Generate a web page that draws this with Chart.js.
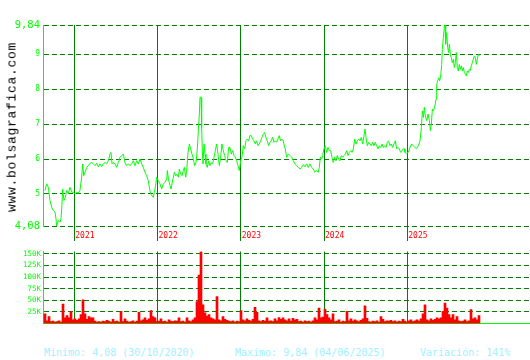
<!DOCTYPE html>
<html>
<head>
<meta charset="utf-8">
<script src="https://cdn.jsdelivr.net/npm/chart.js@4.4.1/dist/chart.umd.min.js"></script>
<style>
    body { margin: 0; background: #fff; width: 530px; height: 360px; position: relative; overflow: hidden; }
    #priceChart { position: absolute; left: 0; top: 0; }
    #volumeChart { position: absolute; left: 0; top: 245px; }
    .stat { position: absolute; top: 347px; font: 10px 'DejaVu Sans Mono', monospace; line-height: 12px; color: #a0f0ff; white-space: pre; }
    #brand { position: absolute; left: 12px; top: 127px; transform: translate(-50%, -50%) rotate(-90deg);
             font: 13px 'Liberation Mono', monospace; letter-spacing: 0.7px; color: #000; white-space: pre; }
</style>
</head>
<body>
<canvas id="priceChart" width="530" height="245"></canvas>
<canvas id="volumeChart" width="530" height="85"></canvas>
<div id="brand">www.bolsagrafica.com</div>
<div class="stat" style="left:44px">Minimo: 4,08 (30/10/2020)</div>
<div class="stat" style="left:235px">Maximo: 9,84 (04/06/2025)</div>
<div class="stat" style="left:420px">Variación: 141%</div>
<script>
// x values are decimal years
const years = [2021, 2022, 2023, 2024, 2025];
const xMin = 2020.624;
const xMax = 2026.474;

const priceTicks = [4.08, 5, 6, 7, 8, 9, 9.84];
const priceMin = 4.08;
const priceMax = 9.84;

const priceDates = [
    2020.648, 2020.668, 2020.688, 2020.708, 2020.728, 2020.748, 2020.768, 2020.780, 2020.788, 2020.808,
    2020.828, 2020.840, 2020.852, 2020.860, 2020.876, 2020.892, 2020.908, 2020.928, 2020.948, 2020.968,
    2020.988, 2021.008, 2021.028, 2021.048, 2021.068, 2021.088, 2021.101, 2021.113, 2021.129, 2021.149,
    2021.169, 2021.189, 2021.209, 2021.229, 2021.249, 2021.269, 2021.289, 2021.309, 2021.329, 2021.349,
    2021.369, 2021.389, 2021.409, 2021.429, 2021.441, 2021.453, 2021.469, 2021.489, 2021.509, 2021.529,
    2021.549, 2021.569, 2021.589, 2021.609, 2021.629, 2021.649, 2021.669, 2021.689, 2021.709, 2021.729,
    2021.749, 2021.769, 2021.789, 2021.809, 2021.829, 2021.849, 2021.869, 2021.889, 2021.901, 2021.917,
    2021.933, 2021.949, 2021.961, 2021.977, 2021.989, 2022.009, 2022.029, 2022.049, 2022.069, 2022.089,

    2022.110, 2022.118, 2022.130, 2022.150, 2022.162, 2022.174, 2022.190, 2022.202, 2022.218, 2022.230,
    2022.250, 2022.262, 2022.278, 2022.294, 2022.310, 2022.322, 2022.338, 2022.350, 2022.366, 2022.382,
    2022.398, 2022.414, 2022.430, 2022.446, 2022.462, 2022.478, 2022.490, 2022.502, 2022.510, 2022.522,
    2022.530, 2022.538, 2022.546, 2022.558, 2022.570, 2022.582, 2022.598, 2022.614, 2022.630, 2022.646,
    2022.662, 2022.678, 2022.694, 2022.710, 2022.726, 2022.742, 2022.758, 2022.774, 2022.790, 2022.806,
    2022.822, 2022.838, 2022.854, 2022.870, 2022.886, 2022.902, 2022.918, 2022.934, 2022.950, 2022.966,
    2022.982, 2022.998, 2023.014, 2023.030, 2023.046, 2023.062, 2023.078, 2023.094, 2023.110, 2023.126,
    2023.142, 2023.158, 2023.174, 2023.190, 2023.206, 2023.222, 2023.238, 2023.254, 2023.270, 2023.286,
    2023.302, 2023.318, 2023.334, 2023.350, 2023.366, 2023.382, 2023.398, 2023.414, 2023.430, 2023.446,
    2023.462, 2023.478, 2023.494, 2023.510, 2023.526,

    2023.531, 2023.551, 2023.571, 2023.591, 2023.611, 2023.631, 2023.651, 2023.671, 2023.691, 2023.711,
    2023.731, 2023.751, 2023.771, 2023.791, 2023.811, 2023.831, 2023.851, 2023.871, 2023.891, 2023.911,
    2023.931, 2023.943, 2023.955, 2023.971, 2023.983, 2023.999, 2024.015, 2024.031, 2024.047, 2024.063,
    2024.079, 2024.095, 2024.111, 2024.127, 2024.143, 2024.159, 2024.175, 2024.191, 2024.208, 2024.224,
    2024.240, 2024.256, 2024.272, 2024.288, 2024.304, 2024.320, 2024.336, 2024.352, 2024.368, 2024.384,
    2024.400, 2024.416, 2024.432, 2024.448, 2024.464, 2024.480, 2024.492, 2024.504, 2024.520, 2024.536,
    2024.552, 2024.568, 2024.584, 2024.600, 2024.616, 2024.632, 2024.648, 2024.664, 2024.680, 2024.696,
    2024.712, 2024.728, 2024.744, 2024.760, 2024.776, 2024.792, 2024.808, 2024.824, 2024.840, 2024.856,
    2024.872, 2024.888, 2024.904, 2024.920, 2024.936, 2024.952, 2024.968,

    2024.972, 2024.992, 2025.012, 2025.032, 2025.052, 2025.072, 2025.092, 2025.112, 2025.132, 2025.153,
    2025.169, 2025.181, 2025.193, 2025.205, 2025.217, 2025.233, 2025.249, 2025.265, 2025.277, 2025.289,
    2025.301, 2025.313, 2025.329, 2025.345, 2025.353, 2025.365, 2025.377, 2025.389, 2025.401, 2025.413,
    2025.421, 2025.433, 2025.445, 2025.453, 2025.461, 2025.473, 2025.485, 2025.497, 2025.505, 2025.517,
    2025.529, 2025.541, 2025.553, 2025.565, 2025.577, 2025.589, 2025.601, 2025.613, 2025.625, 2025.637,
    2025.649, 2025.661, 2025.673, 2025.685, 2025.697, 2025.709, 2025.721, 2025.733, 2025.745, 2025.757,
    2025.769, 2025.781, 2025.793, 2025.805, 2025.817, 2025.829, 2025.841, 2025.853, 2025.865
];

const priceValues = [
    5.10, 5.29, 5.19, 4.81, 4.62, 4.52, 4.48, 4.29, 4.08, 4.24,
    4.19, 4.29, 4.71, 5.14, 4.81, 4.90, 5.10, 5.00, 5.19, 5.05,
    5.05, 5.00, 5.05, 5.02, 5.10, 5.48, 5.86, 5.52, 5.62, 5.76,
    5.81, 5.88, 5.90, 5.86, 5.81, 5.88, 5.78, 5.86, 5.78, 5.86,
    5.90, 5.86, 5.95, 6.14, 6.19, 5.86, 5.90, 5.86, 5.76, 5.90,
    6.05, 6.10, 6.14, 5.90, 5.81, 5.86, 5.81, 5.86, 5.95, 5.81,
    5.95, 5.86, 6.00, 5.86, 5.76, 5.62, 5.52, 5.38, 5.19, 5.00,
    4.95, 4.90, 5.05, 5.24, 5.48, 5.38, 5.29, 5.14, 5.29, 5.33,

    5.43, 5.67, 5.43, 5.24, 5.14, 5.29, 5.48, 5.62, 5.52, 5.57,
    5.48, 5.71, 5.57, 5.52, 5.67, 5.76, 5.48, 5.67, 6.19, 6.43,
    6.29, 6.14, 6.00, 5.81, 5.90, 6.29, 6.81, 7.29, 7.78, 7.76,
    6.90, 6.24, 5.86, 6.43, 6.14, 5.86, 5.76, 5.95, 5.81, 5.90,
    5.86, 6.05, 6.24, 6.43, 6.14, 5.81, 6.05, 6.43, 6.24, 6.10,
    5.95, 5.90, 6.33, 6.33, 6.14, 6.24, 6.10, 6.05, 5.95, 5.81,
    5.67, 5.95, 6.05, 6.38, 6.29, 6.52, 6.57, 6.52, 6.67, 6.67,
    6.57, 6.52, 6.43, 6.52, 6.38, 6.43, 6.52, 6.62, 6.71, 6.76,
    6.62, 6.52, 6.38, 6.48, 6.52, 6.62, 6.48, 6.52, 6.48, 6.57,
    6.67, 6.52, 6.57, 6.52, 6.33,

    6.33, 6.05, 6.14, 6.10, 6.05, 5.95, 5.86, 5.81, 5.76, 5.71,
    5.76, 5.84, 5.78, 5.86, 5.76, 5.86, 5.76, 5.71, 5.62, 5.67,
    5.62, 5.76, 6.05, 6.00, 6.10, 6.29, 6.38, 6.19, 6.33, 6.24,
    6.24, 6.05, 5.90, 6.05, 5.95, 6.10, 6.00, 5.95, 6.10, 6.05,
    6.10, 6.14, 6.24, 6.10, 6.19, 6.24, 6.19, 6.29, 6.57, 6.43,
    6.52, 6.57, 6.52, 6.62, 6.43, 6.67, 6.86, 6.62, 6.38, 6.48,
    6.43, 6.38, 6.48, 6.38, 6.48, 6.38, 6.29, 6.38, 6.33, 6.43,
    6.33, 6.38, 6.33, 6.48, 6.52, 6.38, 6.43, 6.33, 6.43, 6.52,
    6.29, 6.33, 6.29, 6.19, 6.24, 6.29, 6.29,

    6.19, 6.16, 6.19, 6.33, 6.43, 6.38, 6.33, 6.30, 6.38, 6.52,
    6.90, 7.38, 7.19, 7.48, 7.24, 7.10, 7.29, 7.10, 6.81, 7.00,
    7.43, 7.38, 7.48, 7.71, 8.14, 8.24, 8.33, 8.24, 8.38, 8.71,
    9.14, 9.48, 9.78, 9.84, 9.29, 9.62, 9.19, 9.05, 9.29, 9.00,
    8.90, 8.76, 8.86, 8.62, 8.76, 9.05, 8.62, 8.52, 8.71, 8.57,
    8.67, 8.52, 8.62, 8.48, 8.43, 8.38, 8.52, 8.48, 8.57, 8.54,
    8.67, 8.76, 8.86, 8.95, 8.90, 8.71, 8.86, 9.00, 8.95
];

// volume, thousands of shares, one bar per sampling step starting at volStart
const volStart = 2020.648;
const volStep = 0.024024;
const volValues = [
    21, 6, 15, 4, 5, 3, 4, 6, 3, 42, 12, 17, 12, 26, 8, 10, 7, 10, 19, 51,
    21, 9, 15, 12, 12, 5, 3, 4, 3, 5, 4, 7, 5, 3, 9, 4, 5, 3, 26, 4,
    10, 5, 3, 4, 6, 3, 5, 24, 6, 8, 12, 7, 10, 28, 15, 12, 4, 5, 10, 4,
    5, 3, 8, 5, 4, 6, 5, 12, 4, 5, 3, 12, 6, 4, 8, 12, 47, 104, 155, 40,
    23, 16, 19, 12, 10, 8, 58, 8, 6, 15, 9, 7, 5, 4, 6, 3, 5, 4, 28, 8,
    6, 10, 7, 5, 9, 35, 24, 6, 4, 7, 5, 12, 5, 6, 4, 10, 6, 13, 9, 12,
    8, 6, 10, 5, 11, 8, 9, 4, 5, 3, 6, 4, 5, 3, 6, 12, 8, 33, 12, 14,
    31, 19, 12, 8, 21, 4, 5, 8, 3, 5, 4, 26, 6, 10, 5, 8, 6, 4, 7, 10,
    38, 11, 4, 3, 5, 4, 6, 3, 15, 9, 4, 6, 5, 7, 4, 6, 3, 5, 4, 9,
    5, 3, 6, 8, 4, 6, 8, 5, 10, 21, 40, 8, 6, 10, 7, 9, 12, 10, 12, 26,
    44, 33, 19, 12, 19, 8, 15, 6, 4, 5, 8, 4, 6, 30, 10, 12, 8, 17
];
const volTicks = [25000, 50000, 75000, 100000, 125000, 150000];
const volMax = 155000;

const mono = 'DejaVu Sans Mono';

const yearLabels = {
    id: 'yearLabels',
    afterDraw(chart) {
        const { ctx, chartArea, scales: { x } } = chart;
        ctx.save();
        ctx.fillStyle = '#ff0000';
        ctx.font = '8px "' + mono + '"';
        ctx.textBaseline = 'middle';
        years.forEach(y => ctx.fillText(String(y), x.getPixelForValue(y) + 1, chartArea.bottom + 10));
        ctx.restore();
    }
};

function yearAxis(height, tickLen, showBorder) {
    return {
        type: 'linear',
        min: xMin,
        max: xMax,
        offset: false,
        afterBuildTicks: scale => { scale.ticks = years.map(v => ({ value: v })); },
        afterFit: scale => { scale.height = height; },
        ticks: { display: false },
        grid: { color: '#008000', lineWidth: 1, offset: false, drawTicks: tickLen > 0, tickLength: tickLen, tickColor: '#008000' },
        border: { display: showBorder, color: '#00ff00', width: 1 }
    };
}

new Chart(document.getElementById('priceChart'), {
    type: 'line',
    data: {
        datasets: [{
            data: priceDates.map((d, i) => ({ x: d, y: priceValues[i] })),
            borderColor: '#00ff00',
            borderWidth: 1,
            pointRadius: 0,
            tension: 0,
            fill: false
        }]
    },
    options: {
        responsive: false,
        animation: false,
        layout: { padding: { top: 25, right: 0, bottom: 0, left: 0 } },
        scales: {
            x: yearAxis(19, 15, false),
            y: {
                min: priceMin,
                max: priceMax,
                afterBuildTicks: scale => { scale.ticks = priceTicks.map(v => ({ value: v })); },
                afterFit: scale => { scale.width = 43; },
                ticks: {
                    color: '#00ff00',
                    padding: 3,
                    font: ctx => ({ family: mono, size: (ctx.tick && (ctx.tick.value === priceMin || ctx.tick.value === priceMax)) ? 10.5 : 8 }),
                    callback: v => String(v).replace('.', ',')
                },
                grid: { color: '#008000', lineWidth: 1, drawTicks: false },
                border: { display: true, color: '#00ff00', width: 1, dash: [5, 3] }
            }
        },
        plugins: { legend: { display: false }, tooltip: { enabled: false } }
    },
    plugins: [yearLabels]
});

new Chart(document.getElementById('volumeChart'), {
    type: 'bar',
    data: {
        datasets: [{
            data: volValues.map((v, i) => ({ x: volStart + i * volStep, y: v * 1000 })),
            backgroundColor: '#ff0000',
            borderWidth: 0,
            barThickness: 2
        }]
    },
    options: {
        responsive: false,
        animation: false,
        layout: { padding: { top: 5, right: 0, bottom: 0, left: 0 } },
        scales: {
            x: yearAxis(5, 0, true),
            y: {
                min: 0,
                max: volMax,
                afterBuildTicks: scale => { scale.ticks = volTicks.map(v => ({ value: v })); },
                afterFit: scale => { scale.width = 43; },
                ticks: {
                    color: '#00ff00',
                    padding: 2,
                    font: { family: mono, size: 7.5 },
                    callback: v => (v / 1000) + 'K'
                },
                grid: { color: '#008000', lineWidth: 1, drawTicks: false },
                border: { display: true, color: '#00ff00', width: 1, dash: [5, 3] }
            }
        },
        plugins: { legend: { display: false }, tooltip: { enabled: false } }
    }
});
</script>
</body>
</html>
